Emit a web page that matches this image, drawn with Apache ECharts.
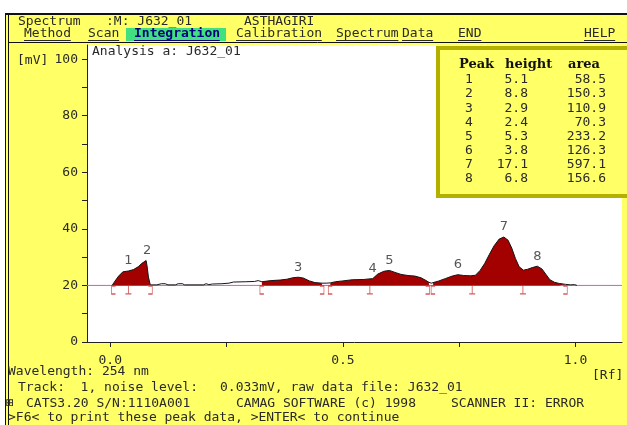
<!DOCTYPE html>
<html>
<head>
<meta charset="utf-8">
<style>
  html, body { margin: 0; padding: 0; background: #fff; }
  #chart { width: 627px; height: 425px; }
</style>
<script src="https://cdn.jsdelivr.net/npm/echarts@6/dist/echarts.min.js"></script>
</head>
<body>
<div id="chart"></div>
<script>
// densitogram trace, Rf vs mV
var curveRf = [0.004, 0.010, 0.018, 0.027, 0.039, 0.050, 0.060, 0.068, 0.077, 0.079, 0.082, 0.086,
  0.090, 0.100, 0.110, 0.118, 0.124, 0.140, 0.146, 0.155, 0.160, 0.200, 0.206, 0.212, 0.220, 0.240,
  0.255, 0.265, 0.290, 0.310, 0.318, 0.326, 0.345, 0.365, 0.380, 0.392, 0.404, 0.415, 0.428, 0.440,
  0.455, 0.464, 0.473, 0.484, 0.500, 0.520, 0.545, 0.556, 0.564, 0.575, 0.588, 0.600, 0.612, 0.625,
  0.640, 0.655, 0.668, 0.678, 0.685, 0.690, 0.694, 0.705, 0.720, 0.735, 0.747, 0.760, 0.775, 0.785,
  0.795, 0.805, 0.815, 0.825, 0.836, 0.846, 0.855, 0.863, 0.871, 0.879, 0.888, 0.897, 0.907, 0.918,
  0.928, 0.937, 0.945, 0.955, 0.965, 0.978, 0.990, 0.998, 1.003]
var curveMv = [20.0, 21.5, 23.3, 24.8, 25.1, 25.6, 26.6, 27.8, 28.8, 27.0, 23.0, 20.2,
  20.1, 20.2, 20.6, 20.6, 20.2, 20.2, 20.6, 20.6, 20.2, 20.2, 20.6, 20.3, 20.5, 20.6,
  20.8, 21.2, 21.3, 21.4, 21.7, 21.3, 21.7, 21.9, 22.2, 22.7, 22.9, 22.6, 21.6, 21.0,
  20.8, 20.8, 20.9, 21.3, 21.6, 22.0, 22.1, 22.3, 22.4, 24.0, 25.0, 25.3, 24.6, 23.9,
  23.5, 23.3, 22.7, 21.8, 21.1, 20.8, 21.0, 21.5, 22.4, 23.3, 23.8, 23.5, 23.4, 23.6,
  25.3, 27.8, 31.0, 34.0, 36.4, 37.1, 36.0, 33.2, 29.5, 26.6, 25.4, 25.7, 26.3, 26.8,
  25.8, 23.8, 22.0, 21.1, 20.7, 20.4, 20.2, 20.3, 20.0]
var baselineMv = 20

// peak table
var peakNo = [1, 2, 3, 4, 5, 6, 7, 8]
var peakRf = [0.039, 0.079, 0.404, 0.564, 0.600, 0.747, 0.846, 0.918]
var peakHeight = [5.1, 8.8, 2.9, 2.4, 5.3, 3.8, 17.1, 6.8]
var peakArea = [58.5, 150.3, 110.9, 70.3, 233.2, 126.3, 597.1, 156.6]

// integrated regions and their marks
var regionStart = [0.004, 0.326, 0.473, 0.694]
var regionEnd = [0.086, 0.455, 0.685, 0.978]
var markRf = [0.007, 0.039, 0.086, 0.326, 0.455, 0.473, 0.558, 0.682, 0.694, 0.778, 0.887, 0.978]
var markType = ['start', 'split', 'end', 'start', 'end', 'start', 'split', 'end', 'start', 'split', 'split', 'end']

// axes
var xTicks = [0, 0.25, 0.5, 0.75, 1.0]
var xLabels = [0, 0.5, 1.0]
var yTicks = [0, 10, 20, 30, 40, 50, 60, 70, 80, 90, 100]
var yLabels = [0, 20, 40, 60, 80, 100]

var MONO = '13px "DejaVu Sans Mono"'
var INK = '#2a2a2a'
var YELLOW = '#ffff66'
var FILL = '#a30000'
var MARK = '#c83232'

var markSymbols = {
  start: { path: 'path://M4,0 L0,0 L0,8 L4,8', size: [4, 8] },
  end: { path: 'path://M0,0 L4,0 L4,8 L0,8', size: [4, 8] },
  split: { path: 'path://M3,0 L3,8 M0,8 L6,8', size: [6, 8] }
}

function curvePoints () {
  return curveRf.map(function (r, i) { return [r, curveMv[i]] })
}

function regionSeries () {
  var pts = curvePoints()
  return regionStart.map(function (s, k) {
    return {
      type: 'line',
      data: pts.filter(function (p) { return p[0] >= s - 1e-9 && p[0] <= regionEnd[k] + 1e-9 }),
      symbol: 'none',
      silent: true,
      lineStyle: { opacity: 0 },
      areaStyle: { origin: baselineMv, color: FILL, opacity: 1 },
      z: 3
    }
  })
}

function txt (text, x, y, extra) {
  var style = { text: text, x: x, y: y, font: MONO, fill: INK, verticalAlign: 'middle' }
  for (var k in extra) style[k] = extra[k]
  return { type: 'text', z: 20, style: style }
}

function line (x1, y1, x2, y2, color, w) {
  return { type: 'line', z: 20, shape: { x1: x1, y1: y1, x2: x2, y2: y2 }, style: { stroke: color || '#111', lineWidth: w || 1 } }
}

function getGraphics () {
  var g = []
  // white margins and frame
  g.push({ type: 'rect', z: 19, shape: { x: 0, y: 0, width: 627, height: 13 }, style: { fill: '#fff' } })
  g.push({ type: 'rect', z: 19, shape: { x: 0, y: 0, width: 5, height: 425 }, style: { fill: '#fff' } })
  g.push(line(5, 14, 627, 14, '#111', 2))
  g.push(line(5.5, 14, 5.5, 425))
  g.push(line(8.5, 14, 8.5, 425))
  g.push(line(8, 42.5, 627, 42.5))

  // header lines
  g.push(txt('Spectrum', 18, 22))
  g.push(txt(':M: J632_01', 106, 22))
  g.push(txt('ASTHAGIRI', 244, 22))
  g.push({ type: 'rect', z: 19, shape: { x: 126, y: 28, width: 100, height: 13 }, style: { fill: '#40e080' } })
  var menu = [['Method', 24], ['Scan', 88], ['Integration', 134], ['Calibration', 236],
    ['Spectrum', 336], ['Data', 402], ['END', 458], ['HELP', 584]]
  menu.forEach(function (m) {
    var hl = m[0] === 'Integration'
    g.push(txt(m[0], m[1], 34, hl ? { fill: '#00007a', font: 'bold ' + MONO } : {}))
    g.push(line(m[1], 40.5, m[1] + m[0].length * 7.8, 40.5, hl ? '#00007a' : INK))
  })

  g.push(txt('Analysis a: J632_01', 92, 52))
  g.push(txt('[mV]', 17, 61))

  // peak table box
  g.push({ type: 'rect', z: 19, shape: { x: 438, y: 48, width: 200, height: 148 },
    style: { fill: YELLOW, stroke: '#b4b000', lineWidth: 4 } })
  var head = 'bold 13px "DejaVu Serif"'
  g.push(txt('Peak', 459, 65, { font: head, fill: '#111' }))
  g.push(txt('height', 505, 65, { font: head, fill: '#111' }))
  g.push(txt('area', 568, 65, { font: head, fill: '#111' }))
  peakNo.forEach(function (n, i) {
    var y = 80 + i * 14.1
    g.push(txt(String(n), 469, y, { align: 'center' }))
    g.push(txt(peakHeight[i].toFixed(1), 528, y, { align: 'right' }))
    g.push(txt(peakArea[i].toFixed(1), 606, y, { align: 'right' }))
  })

  // footer
  g.push(txt('[Rf]', 592, 376))
  g.push(txt('Wavelength: 254 nm', 8, 372))
  g.push(txt('Track:  1, noise level:', 18, 388))
  g.push(txt('0.033mV, raw data file: J632_01', 220, 388))
  g.push(txt('\u229E', 6, 404))
  g.push(txt('CATS3.20 S/N:1110A001', 26, 404))
  g.push(txt('CAMAG SOFTWARE (c) 1998', 236, 404))
  g.push(txt('SCANNER II: ERROR', 451, 404))
  g.push(txt('>F6< to print these peak data, >ENTER< to continue', 8, 418))
  return g
}

var chart = echarts.init(document.getElementById('chart'))
chart.setOption({
  animation: false,
  backgroundColor: YELLOW,
  grid: {
    left: 87, top: 45, right: 5, bottom: 83,
    show: true, backgroundColor: '#fff', borderWidth: 0
  },
  xAxis: {
    type: 'value',
    min: -0.05,
    max: 1.1,
    splitLine: { show: false },
    axisLine: { show: true, onZero: false, lineStyle: { color: '#222', width: 1 } },
    axisTick: { show: true, customValues: xTicks, length: 5, lineStyle: { color: '#222' } },
    axisLabel: {
      customValues: xLabels, margin: 12, color: INK,
      fontFamily: 'DejaVu Sans Mono', fontSize: 13,
      formatter: function (v) { return v.toFixed(1) }
    }
  },
  yAxis: {
    type: 'value',
    min: 0,
    max: 105,
    splitLine: { show: false },
    axisLine: { show: true, onZero: false, lineStyle: { color: '#222', width: 1 } },
    axisTick: { show: true, customValues: yTicks, length: 5, lineStyle: { color: '#222' } },
    axisLabel: {
      customValues: yLabels, margin: 9, color: INK,
      fontFamily: 'DejaVu Sans Mono', fontSize: 13
    }
  },
  graphic: getGraphics(),
  series: [{
    type: 'line',
    data: [[-0.05, baselineMv], [1.1, baselineMv]],
    symbol: 'none',
    silent: true,
    lineStyle: { color: '#e050d8', width: 1 },
    z: 2
  }].concat(regionSeries(), [{
    type: 'line',
    data: curvePoints(),
    symbol: 'none',
    silent: true,
    lineStyle: { color: '#151515', width: 1 },
    z: 4
  }, {
    type: 'scatter',
    silent: true,
    data: markRf.map(function (r, i) {
      var s = markSymbols[markType[i]]
      return { value: [r, baselineMv], symbol: s.path, symbolSize: s.size }
    }),
    symbolOffset: [0, 4.5],
    itemStyle: { color: 'transparent', borderColor: MARK, borderWidth: 1 },
    z: 5
  }, {
    type: 'scatter',
    silent: true,
    data: peakRf.map(function (r, i) { return [r, baselineMv + peakHeight[i]] }),
    symbolSize: 1,
    itemStyle: { color: 'transparent' },
    label: {
      show: true, position: 'top', distance: 3,
      fontFamily: 'DejaVu Sans', fontSize: 13, color: INK,
      formatter: function (p) { return String(peakNo[p.dataIndex]) }
    },
    z: 6
  }])
})
</script>
</body>
</html>
